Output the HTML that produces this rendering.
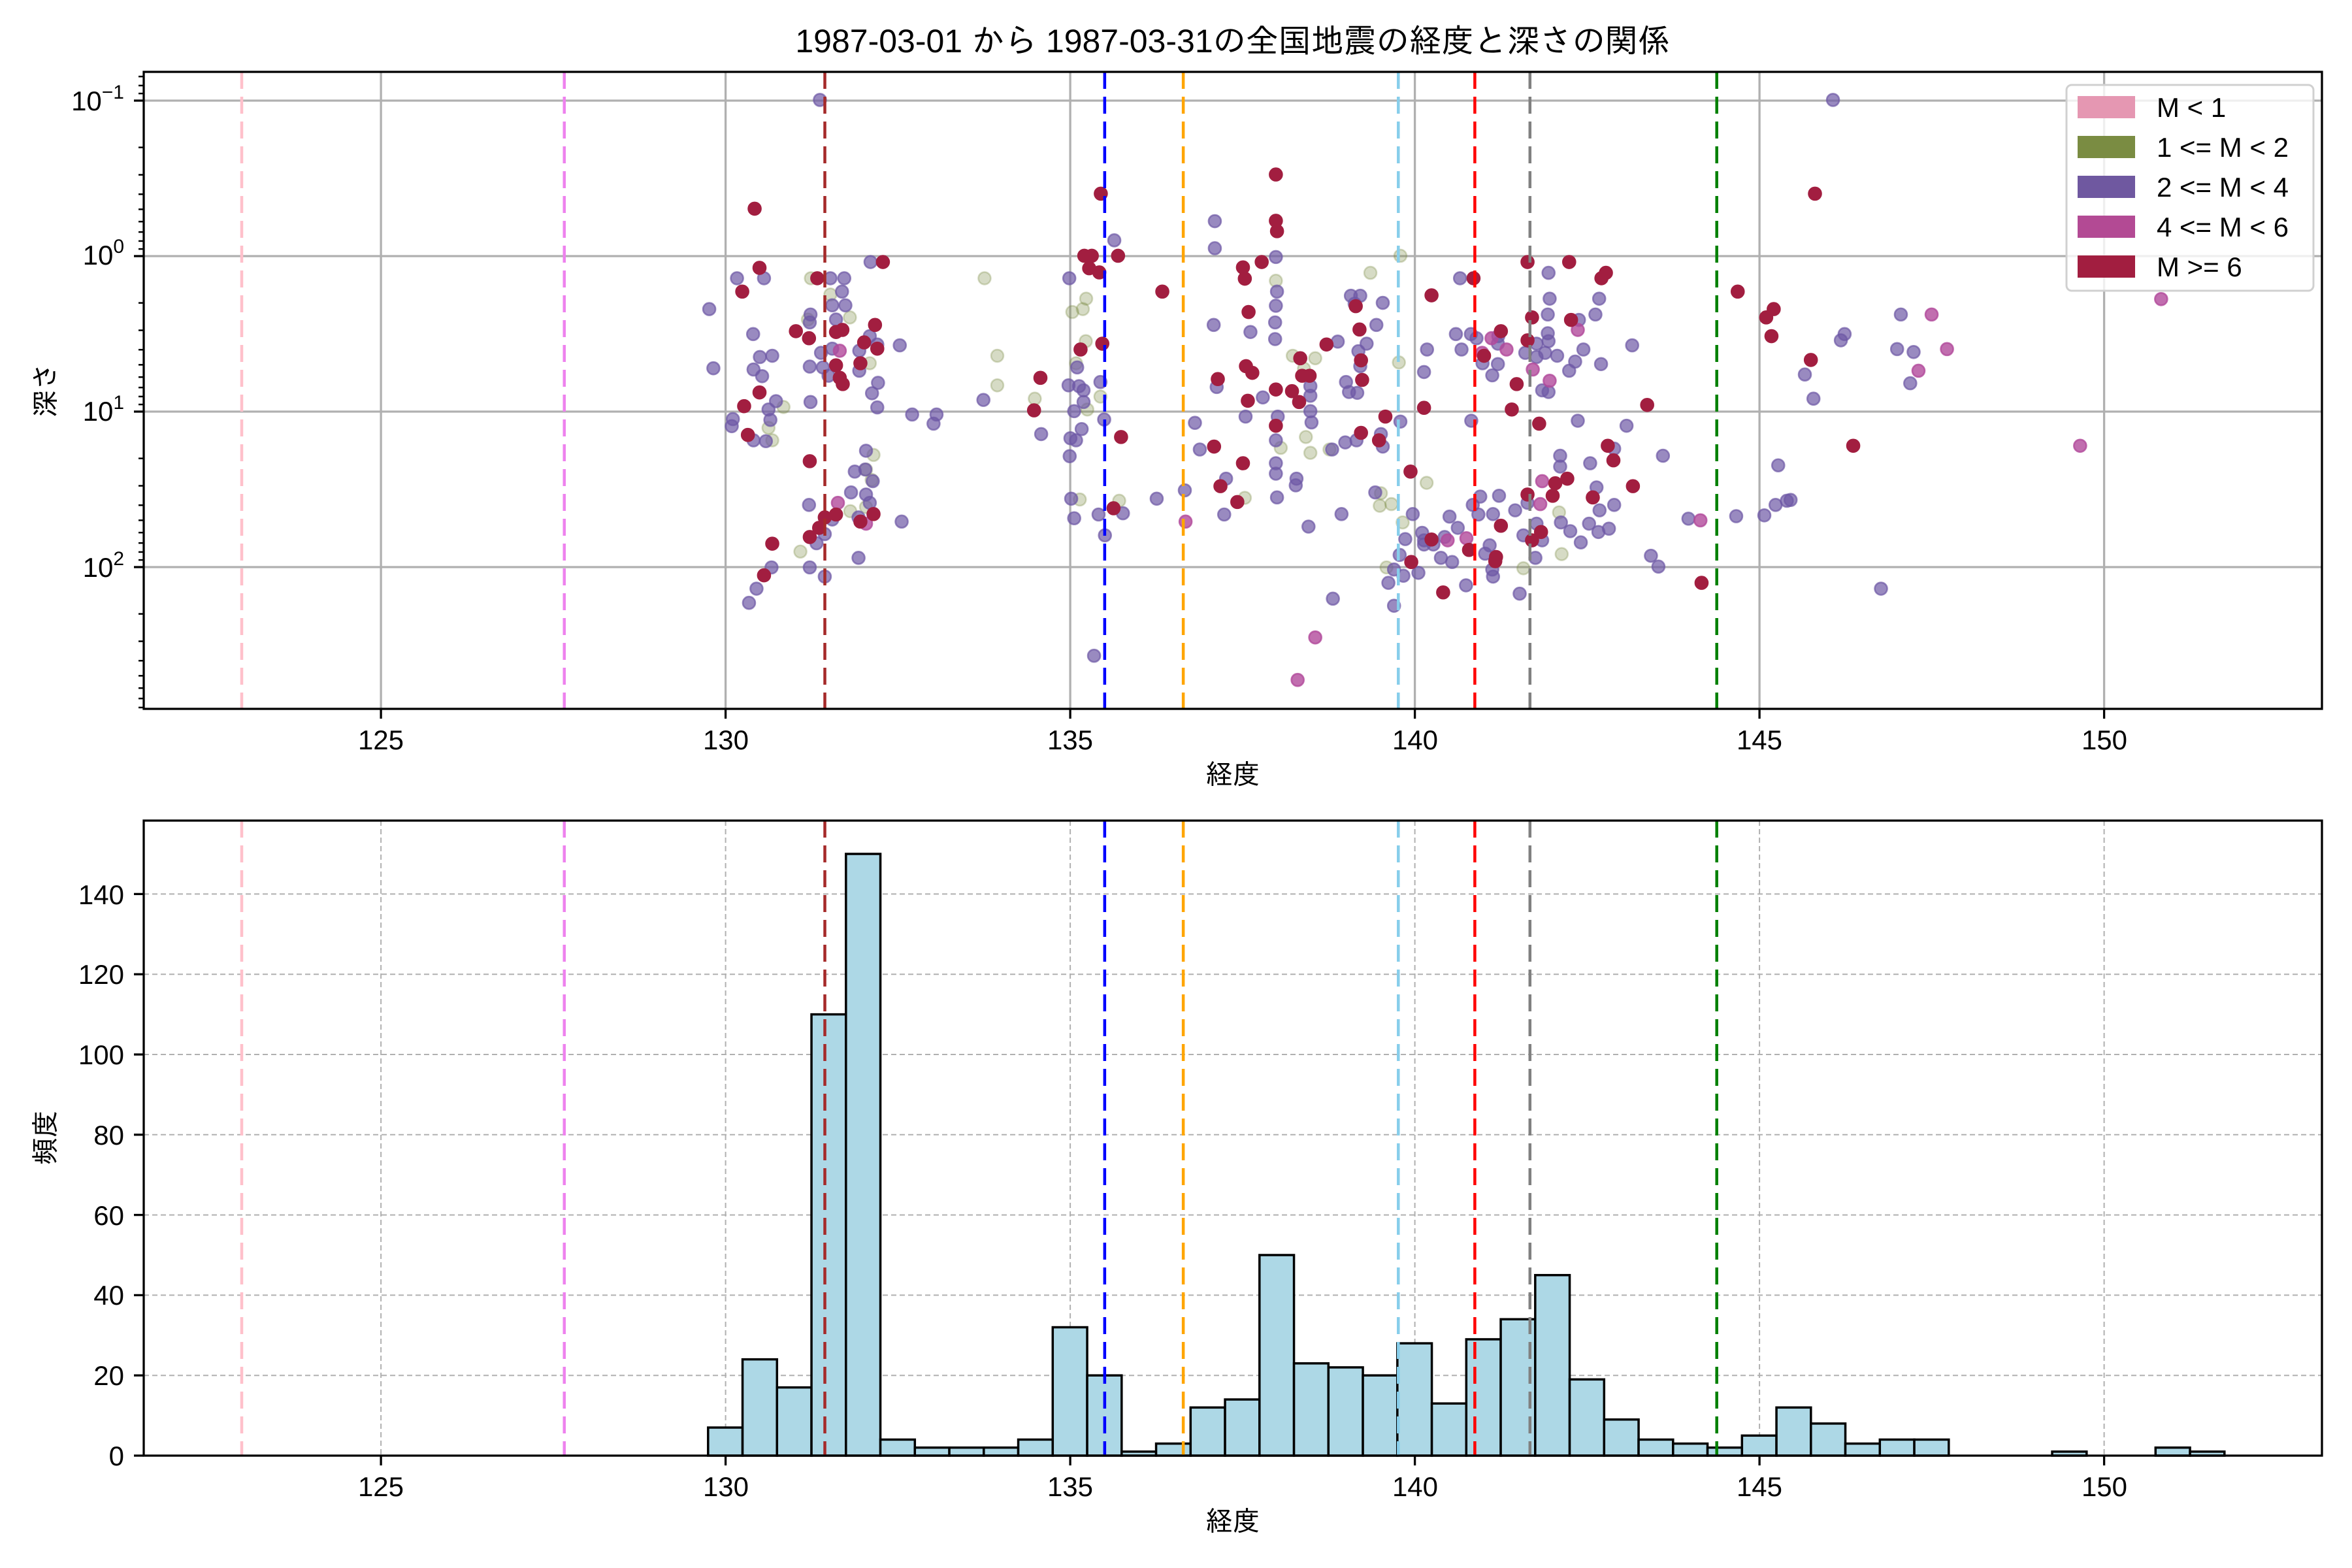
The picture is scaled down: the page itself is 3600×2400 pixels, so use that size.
<!DOCTYPE html>
<html><head><meta charset="utf-8">
<style>
html,body{margin:0;padding:0;background:#fff;}
svg{display:block;}
text{font-family:"Liberation Sans","IPAGothic","Noto Sans CJK JP",sans-serif;fill:#000;}
</style></head>
<body>
<svg id="s" xmlns="http://www.w3.org/2000/svg" width="3600" height="2400" viewBox="0 0 3600 2400">
<rect width="3600" height="2400" fill="#fff"/>
<text x="1887" y="80" font-size="50" text-anchor="middle">1987-03-01 から 1987-03-31の全国地震の経度と深さの関係</text>
<g id="gtop"></g>
<g id="gbot"></g>
<g font-size="42" text-anchor="middle">
<text x="583" y="1147">125</text><text x="1111" y="1147">130</text><text x="1638" y="1147">135</text>
<text x="2166" y="1147">140</text><text x="2693" y="1147">145</text><text x="3221" y="1147">150</text>
<text x="1887" y="1200">経度</text>
<text x="583" y="2290">125</text><text x="1111" y="2290">130</text><text x="1638" y="2290">135</text>
<text x="2166" y="2290">140</text><text x="2693" y="2290">145</text><text x="3221" y="2290">150</text>
<text x="1887" y="2343">経度</text>
</g>
<g font-size="42" text-anchor="end">
<text x="190" y="169">10<tspan font-size="30" dy="-18">−1</tspan></text>
<text x="190" y="405">10<tspan font-size="30" dy="-18">0</tspan></text>
<text x="190" y="644">10<tspan font-size="30" dy="-18">1</tspan></text>
<text x="190" y="883">10<tspan font-size="30" dy="-18">2</tspan></text>
</g>
<g font-size="42" text-anchor="end">
<text x="190" y="2243">0</text><text x="190" y="2120">20</text><text x="190" y="1997">40</text><text x="190" y="1875">60</text>
<text x="190" y="1752">80</text><text x="190" y="1629">100</text><text x="190" y="1506">120</text><text x="190" y="1384">140</text>
</g>
<text font-size="42" transform="translate(84,597) rotate(-90)" text-anchor="middle">深さ</text>
<text font-size="42" transform="translate(84,1741) rotate(-90)" text-anchor="middle">頻度</text>
<g id="gleg">
<rect x="3163" y="130" width="378" height="315" rx="8" fill="#fff" fill-opacity="0.8" stroke="#d0d0d0" stroke-width="3"/>
<rect x="3180" y="147" width="88" height="34" fill="#e597b2"/>
<rect x="3180" y="208" width="88" height="34" fill="#7a8c42"/>
<rect x="3180" y="269" width="88" height="34" fill="#6f58a0"/>
<rect x="3180" y="330" width="88" height="34" fill="#b34a94"/>
<rect x="3180" y="391" width="88" height="34" fill="#a21e40"/>
<g font-size="42">
<text x="3301" y="179">M &lt; 1</text>
<text x="3301" y="240">1 &lt;= M &lt; 2</text>
<text x="3301" y="301">2 &lt;= M &lt; 4</text>
<text x="3301" y="362">4 &lt;= M &lt; 6</text>
<text x="3301" y="423">M &gt;= 6</text>
</g>
</g>
</svg>
<script>
(function(){
var NS="http://www.w3.org/2000/svg";
function el(p,t,a){var e=document.createElementNS(NS,t);for(var k in a)e.setAttribute(k,a[k]);p.appendChild(e);return e;}
var L=220,R=3554,T1=110,B1=1085,T2=1256,B2=2228;
function X(lon){return 1110.6+(lon-130)*105.5;}
function Y1(l){return 154+(l+1)*238;}
function HY(v){return B2-v*6.14;}
var gt=document.getElementById('gtop'),gb=document.getElementById('gbot');
[125,130,135,140,145,150].forEach(function(v){el(gt,'line',{x1:X(v),x2:X(v),y1:T1,y2:B1,stroke:'#b0b0b0','stroke-width':3.3});});
[-1,0,1,2].forEach(function(v){el(gt,'line',{x1:L,x2:R,y1:Y1(v),y2:Y1(v),stroke:'#b0b0b0','stroke-width':3.3});});
[125,130,135,140,145,150].forEach(function(v){el(gb,'line',{x1:X(v),x2:X(v),y1:T2,y2:B2,stroke:'#b0b0b0','stroke-width':2,'stroke-dasharray':'8,5'});});
for(var v=20;v<=140;v+=20)el(gb,'line',{x1:L,x2:R,y1:HY(v),y2:HY(v),stroke:'#b0b0b0','stroke-width':2,'stroke-dasharray':'8,5'});
var VL=[[122.98,'#ffc0cb'],[127.66,'#ee82ee'],[131.44,'#a52a2a'],[135.5,'#0000ff'],[136.64,'#ffa500'],[139.76,'#87ceeb'],[140.87,'#ff0000'],[141.67,'#808080'],[144.38,'#008000']];
function vl(g,t,b){VL.forEach(function(c){el(g,'line',{x1:X(c[0]),x2:X(c[0]),y1:t,y2:b,stroke:c[1],'stroke-width':4.5,'stroke-dasharray':'26,12'});});}
var H=[7,24,17,110,150,4,2,2,2,4,32,20,1,3,12,14,50,23,22,20,28,13,29,34,45,19,9,4,3,2,5,12,8,3,4,4,0,0,0,1,0,0,2,1];
H.forEach(function(h,i){if(!h)return;var a=X(129.746+0.5*i),b=X(129.746+0.5*(i+1));el(gb,'rect',{x:a,y:HY(h),width:b-a,height:h*6.14,fill:'#add8e6',stroke:'#000','stroke-width':3.5});});
vl(gb,T2,B2);
var A=[1050,"O",[[333,511],[385,550],[437,605],[325,610],[260,820],[220,870],[230,900],[500,935],[480,970],[495,995],[438,1070],[480,1060],[305,1167],[796,511],[830,697],[830,768],[930,800],[1067,560],[1030,592],[1058,585],[1066,662],[1040,715],[1070,826],[1105,795],[1050,1042],[1155,1045],[1490,1038],[490,715]],
"P",[[357,83],[136,511],[208,511],[62,585],[179,645],[197,700],[230,697],[180,730],[203,746],[73,727],[240,806],[220,826],[225,851],[125,849],[122,866],[180,900],[213,902],[385,511],[422,511],[416,543],[390,576],[425,576],[332,598],[330,617],[400,610],[360,690],[390,680],[330,723],[365,725],[380,745],[332,808],[462,685],[490,650],[510,670],[462,733],[512,762],[496,787],[510,821],[570,672],[492,472],[603,838],[668,838],[660,860],[480,925],[450,975],[478,970],[498,998],[440,1025],[480,1030],[490,1050],[460,1085],[390,1090],[370,1125],[348,1147],[328,1055],[575,1095],[460,1182],[330,1205],[370,1227],[228,1205],[188,1256],[168,1290],[793,803],[947,885],[1022,511],[1410,374],[1410,439],[1142,420],[1407,623],[1505,640],[1048,770],[1060,780],[1020,768],[1035,830],[1060,808],[1105,760],[1115,850],[1055,873],[1025,895],[1040,900],[1023,938],[1027,1040],[1035,1087],[1100,1078],[1165,1075],[1117,1128],[1255,1040],[1330,1020],[1357,858],[1370,922],[1440,992],[1435,1078],[1415,772],[1492,843],[1538,797],[1088,1417],[1043,725]],
"M",[[405,1050],[480,1100],[1332,1095],[410,685]],
"R",[[183,344],[196,486],[150,543],[293,638],[328,655],[350,511],[400,640],[417,635],[504,623],[475,665],[510,680],[400,720],[410,750],[418,765],[465,715],[525,472],[196,785],[155,818],[165,887],[330,950],[370,1085],[355,1110],[330,1132],[230,1148],[208,1224],[400,1078],[465,1095],[500,1077],[1062,457],[1082,457],[1152,457],[1075,487],[1102,497],[1106,308],[1270,543],[1052,682],[1110,668],[945,750],[928,828],[1160,892],[1140,1063],[1408,915],[1485,955],[1425,1010],[1470,1048],[1490,512],[1485,485],[1535,472],[1500,592],[1493,722],[1510,738],[1418,753],[1498,805]]];
var B=[1950,"O",[[5,517],[257,498],[337,457],[50,697],[110,703],[80,728],[333,713],[85,892],[97,930],[18,918],[148,922],[285,1027],[282,1057],[313,1053],[407,1002],[343,1097],[300,1205],[760,1073],[767,1173],[665,1207]],
"P",[[5,460],[8,543],[5,577],[3,617],[3,657],[205,553],[230,553],[215,572],[290,570],[273,623],[170,663],[247,668],[225,686],[230,722],[192,760],[200,784],[222,786],[97,770],[97,793],[97,830],[100,857],[10,843],[5,900],[5,955],[5,980],[8,1037],[60,992],[58,1008],[190,905],[220,900],[285,885],[290,915],[155,922],[180,1077],[92,1107],[270,1025],[337,855],[370,1077],[350,1137],[400,1140],[395,1122],[335,1175],[320,1210],[345,1225],[385,1218],[305,1242],[157,1280],[320,1297],[496,511],[732,498],[735,560],[730,598],[867,560],[857,598],[813,611],[485,645],[525,645],[500,682],[408,682],[400,736],[540,655],[598,650],[597,668],[556,715],[597,717],[582,744],[670,690],[700,668],[732,662],[730,643],[755,697],[723,690],[700,700],[825,682],[803,711],[787,733],[872,717],[955,672],[715,780],[732,784],[526,853],[810,853],[940,865],[907,920],[1037,937],[763,937],[763,963],[843,955],[860,1013],[907,1055],[868,1068],[840,1100],[865,1120],[893,1112],[818,1145],[790,1118],[765,1097],[700,1100],[665,1128],[697,1182],[715,1140],[643,1068],[676,1050],[600,1033],[550,1035],[530,1055],[545,1078],[584,1077],[468,1083],[490,1110],[575,1152],[563,1172],[582,1210],[584,1227],[512,1248],[475,1192],[445,1182],[455,1132],[400,1150],[425,1150],[655,1268],[1005,1177],[1025,1203],[1105,1088]],
"M",[[580,655],[620,682],[735,757],[690,730],[810,635],[555,690],[715,998],[710,1053],[513,1135],[463,1140],[1137,1092],[110,1373],[63,1475]],
"R",[[5,262],[5,373],[8,398],[218,578],[228,634],[140,670],[232,708],[70,703],[75,745],[95,745],[235,755],[48,782],[67,808],[5,778],[5,865],[232,882],[297,843],[280,900],[364,975],[400,822],[420,552],[532,511],[676,472],[787,472],[873,511],[885,498],[688,605],[792,611],[605,638],[676,660],[560,697],[647,765],[634,826],[707,860],[995,815],[890,913],[905,948],[957,1010],[850,1037],[782,992],[750,1003],[743,1033],[676,1030],[605,1105],[520,1163],[592,1180],[590,1190],[420,1138],[366,1192],[451,1265],[712,1120],[688,1140],[1140,1242]]];
var C=[2650,"O",[],
"P",[[271,83],[452,598],[302,645],[292,660],[442,681],[486,688],[196,742],[477,763],[219,800],[125,960],[158,1043],[148,1045],[118,1055],[88,1080],[13,1082],[399,1256]],
"M",[[534,598],[575,681],[499,733],[930,913],[1146,561]],
"R",[[223,308],[17,543],[113,585],[93,605],[107,650],[212,707],[325,913]]];
var ST={O:{c:'#77893f',o:0.3},P:{c:'#6e58a5',o:0.7},M:{c:'#b24a9b',o:0.8},R:{c:'#a21e40',o:1}};
var cl=el(gt,'g',{});
['O','P','M','R'].forEach(function(k){
 [A,B,C].forEach(function(Z){var i=Z.indexOf(k);var pts=Z[i+1];var s=ST[k];
  pts.forEach(function(p){el(cl,'circle',{cx:Z[0]+p[0]/1.742,cy:100+p[1]/1.568,r:9.5,fill:s.c,'fill-opacity':s.o,stroke:s.c,'stroke-opacity':s.o,'stroke-width':2.6});});});});
vl(gt,T1,B1);
function frame(g,t,b){el(g,'rect',{x:L,y:t,width:R-L,height:b-t,fill:'none',stroke:'#000','stroke-width':3.3});
 [125,130,135,140,145,150].forEach(function(v){el(g,'line',{x1:X(v),x2:X(v),y1:b,y2:b+15,stroke:'#000','stroke-width':3.3});});}
frame(gt,T1,B1);frame(gb,T2,B2);
[-1,0,1,2].forEach(function(v){el(gt,'line',{x1:L-15,x2:L,y1:Y1(v),y2:Y1(v),stroke:'#000','stroke-width':3.3});});
for(var d=-2;d<=2;d++)for(var k=2;k<=9;k++){var l=d+Math.log(k)/Math.LN10;if(l>-1.185&&l<2.91){var y=Y1(l);el(gt,'line',{x1:L-8,x2:L,y1:y,y2:y,stroke:'#000','stroke-width':2.5});}}
for(var v2=0;v2<=140;v2+=20){el(gb,'line',{x1:L-15,x2:L,y1:HY(v2),y2:HY(v2),stroke:'#000','stroke-width':3.3});}
var leg=document.getElementById('gleg');leg.parentNode.appendChild(leg);
})();
</script>
</body></html>
